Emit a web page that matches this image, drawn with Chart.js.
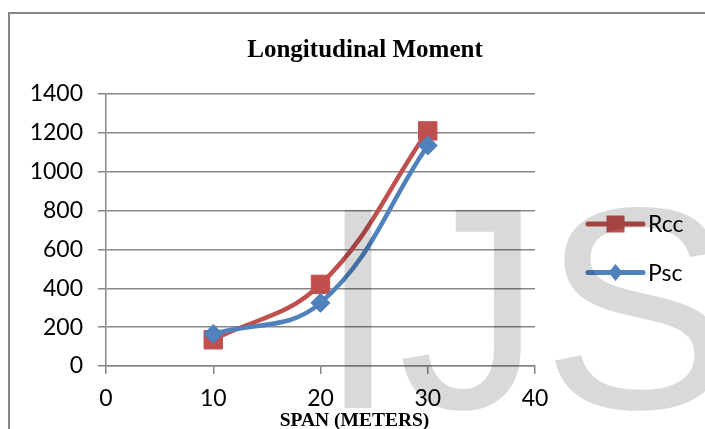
<!DOCTYPE html>
<html>
<head>
<meta charset="utf-8">
<title>Longitudinal Moment</title>
<script src="https://cdn.jsdelivr.net/npm/chart.js@4/dist/chart.umd.min.js"></script>
<style>
  html, body { margin: 0; padding: 0; background: #fff; overflow: hidden; }
  canvas { display: block; }
</style>
</head>
<body>
<canvas id="chart" width="705" height="429"></canvas>
<script>
// Span (m) and moment values per deck type
const spans = [10, 20, 30];
const rccMoment = [135, 420, 1210];
const pscMoment = [165, 325, 1135];
const seriesNames = ['Rcc', 'Psc'];
const seriesColors = ['#C0504D', '#4F81BD'];
const xTicks = [0, 10, 20, 30, 40];
const yTicks = [0, 200, 400, 600, 800, 1000, 1200, 1400];
const chartTitle = 'Longitudinal Moment';
const xAxisTitle = 'SPAN (METERS)';
const watermarkText = 'IJS';

const axisGray = '#878787';
const tickFont = { family: 'Lato', size: 23 };

const toPoints = vals => spans.map((s, i) => ({ x: s, y: vals[i] }));

// Frame, titles, legend and the watermark
const decor = {
  id: 'decor',
  beforeDraw(chart) {
    const ctx = chart.ctx;
    ctx.save();
    ctx.fillStyle = '#ffffff';
    ctx.fillRect(0, 0, chart.width, chart.height);
    ctx.restore();
  },
  afterDraw(chart) {
    const ctx = chart.ctx;
    ctx.save();

    // outer frame (top and left edges)
    ctx.strokeStyle = axisGray;
    ctx.lineWidth = 2;
    ctx.beginPath();
    ctx.moveTo(9, chart.height);
    ctx.lineTo(9, 13);
    ctx.lineTo(chart.width, 13);
    ctx.stroke();

    // chart title
    ctx.fillStyle = '#000';
    ctx.textAlign = 'center';
    ctx.textBaseline = 'alphabetic';
    ctx.font = 'bold 25px "Liberation Serif"';
    ctx.fillText(chartTitle, 365, 57);

    // x axis title
    ctx.font = 'bold 19.5px "Liberation Serif"';
    ctx.fillText(xAxisTitle, 354.5, 426);

    // legend: line with marker, then name
    const lx0 = 588, lx1 = 643, lxc = (lx0 + lx1) / 2;
    const rows = [224, 272.5];
    rows.forEach((ly, i) => {
      ctx.strokeStyle = seriesColors[i];
      ctx.fillStyle = seriesColors[i];
      ctx.lineWidth = 5;
      ctx.lineCap = 'round';
      ctx.beginPath();
      ctx.moveTo(lx0, ly);
      ctx.lineTo(lx1, ly);
      ctx.stroke();
      ctx.beginPath();
      if (i === 0) {
        ctx.rect(lxc - 9, ly - 8.5, 18, 17);
      } else {
        ctx.moveTo(lxc, ly - 8.5);
        ctx.lineTo(lxc + 7, ly);
        ctx.lineTo(lxc, ly + 8.5);
        ctx.lineTo(lxc - 7, ly);
        ctx.closePath();
      }
      ctx.fill();
      ctx.fillStyle = '#000';
      ctx.font = '23px Lato';
      ctx.textAlign = 'left';
      ctx.textBaseline = 'middle';
      ctx.fillText(seriesNames[i], 648, ly + 1);
    });

    // watermark lettering, multiplied over everything
    ctx.globalCompositeOperation = 'multiply';
    ctx.fillStyle = '#d9d9d9';
    ctx.font = '288px "Liberation Sans"';
    ctx.textAlign = 'left';
    ctx.textBaseline = 'alphabetic';
    ctx.fillText(watermarkText, 318, 408);

    ctx.restore();
  }
};

new Chart(document.getElementById('chart'), {
  type: 'line',
  data: {
    datasets: [
      {
        label: seriesNames[0],
        data: toPoints(rccMoment),
        borderColor: seriesColors[0],
        backgroundColor: seriesColors[0],
        pointStyle: 'rect',
        pointRadius: 13,
        pointBorderWidth: 1,
        order: 1
      },
      {
        label: seriesNames[1],
        data: toPoints(pscMoment),
        borderColor: seriesColors[1],
        backgroundColor: seriesColors[1],
        pointStyle: 'rectRot',
        pointRadius: 9.5,
        pointBorderWidth: 1,
        order: 0
      }
    ]
  },
  options: {
    responsive: false,
    animation: false,
    devicePixelRatio: 1,
    layout: { padding: { left: 0, right: 170, top: 94, bottom: 0 } },
    elements: {
      line: { borderWidth: 4.5, tension: 0.4, fill: false, capBezierPoints: true }
    },
    plugins: {
      legend: { display: false },
      title: { display: false },
      tooltip: { enabled: false }
    },
    scales: {
      x: {
        type: 'linear',
        min: 0,
        max: 40,
        afterBuildTicks: s => { s.ticks = xTicks.map(v => ({ value: v })); },
        afterFit: s => { s.height = 63; },
        grid: { drawOnChartArea: false, color: axisGray, lineWidth: 1.5, tickLength: 8 },
        border: { color: axisGray, width: 1.5 },
        ticks: { font: tickFont, color: '#000', padding: 11, maxRotation: 0, callback: v => String(v) }
      },
      y: {
        min: 0,
        max: 1400,
        afterBuildTicks: s => { s.ticks = yTicks.map(v => ({ value: v })); },
        afterFit: s => { s.width = 106; },
        grid: { color: axisGray, lineWidth: 1.5, tickLength: 8 },
        border: { color: axisGray, width: 1.5 },
        ticks: { font: tickFont, color: '#000', padding: 15, callback: v => String(v) }
      }
    }
  },
  plugins: [decor]
});
</script>
</body>
</html>
